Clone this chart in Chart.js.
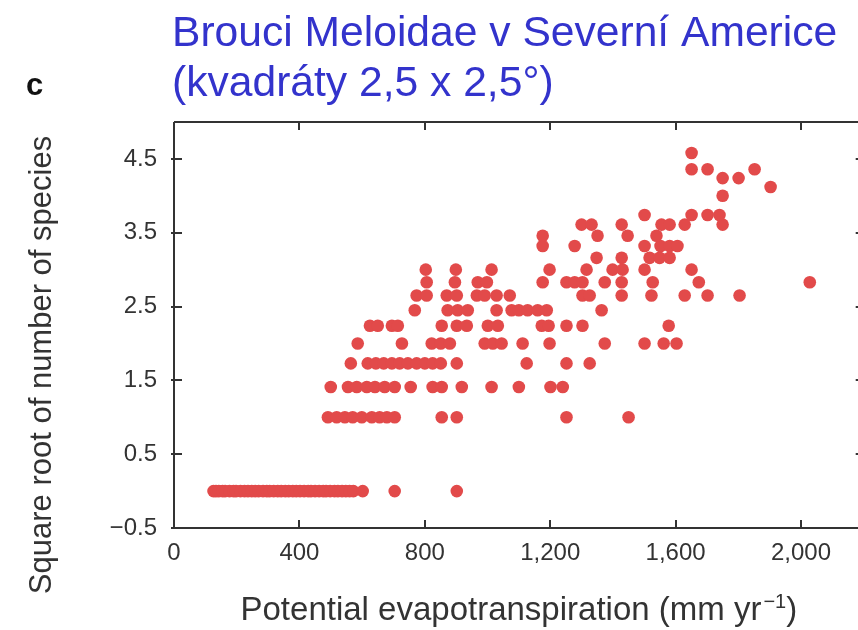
<!DOCTYPE html>
<html><head><meta charset="utf-8">
<script src="https://cdn.jsdelivr.net/npm/chart.js@4.4.1/dist/chart.umd.min.js"></script>
<style>
html,body{margin:0;padding:0;background:#fff;overflow:hidden;width:858px;height:630px}
#wrap{position:absolute;left:0;top:0;width:870px;height:630px}
</style>
</head><body><div id="wrap"><canvas id="c" width="870" height="630"></canvas></div>
<script>
// ---- text ----
const titleLines = ['Brouci Meloidae v Severní Americe', '(kvadráty 2,5 x 2,5°)'];
const panelLetter = 'c';
const yAxisTitle = 'Square root of number of species';
const xAxisTitleMain = 'Potential evapotranspiration (mm yr';
const xAxisTitleSup = '\u22121';
const xAxisTitleEnd = ')';

// ---- ticks ----
const xTickValues = [0, 400, 800, 1200, 1600, 2000];
const xTickLabels = ['0', '400', '800', '1,200', '1,600', '2,000'];
const yTickValues = [-0.5, 0.5, 1.5, 2.5, 3.5, 4.5];
const yTickLabels = ['\u22120.5', '0.5', '1.5', '2.5', '3.5', '4.5'];

// ---- data: square-root richness levels and PET values (mm/yr) at each level ----
const sqrtLevels = [0, 1, 1.41, 1.73, 2, 2.24, 2.45, 2.65, 2.83, 3, 3.16, 3.32, 3.46, 3.61, 3.74, 4, 4.12, 4.24, 4.36, 4.58];
const petLevel00 = [126, 134, 143, 155, 163, 177, 190, 198, 212, 225, 236, 248, 259, 270, 284, 296, 305, 318, 331, 342, 355, 366, 379, 390, 402, 415, 428, 437, 450, 463, 476, 485, 498, 512, 523, 536, 548, 560, 572, 602, 704, 902];
const petLevel01 = [491, 519, 545, 570, 599, 631, 656, 679, 704, 854, 902, 1252, 1450];
const petLevel02 = [500, 555, 583, 615, 641, 672, 704, 755, 825, 854, 918, 1013, 1100, 1201, 1240];
const petLevel03 = [564, 618, 644, 669, 695, 720, 746, 774, 800, 825, 851, 902, 1125, 1252, 1326];
const petLevel04 = [586, 727, 822, 851, 880, 991, 1017, 1045, 1112, 1198, 1374, 1501, 1562, 1603];
const petLevel05 = [625, 650, 695, 714, 854, 902, 934, 1001, 1033, 1173, 1195, 1252, 1303, 1578];
const petLevel06 = [768, 873, 905, 937, 1029, 1077, 1100, 1128, 1160, 1189, 1364];
const petLevel07 = [774, 806, 870, 902, 966, 991, 1029, 1071, 1303, 1326, 1428, 1523, 1629, 1702, 1804];
const petLevel08 = [806, 896, 969, 998, 1176, 1252, 1278, 1303, 1374, 1428, 1527, 1674, 2028];
const petLevel09 = [803, 899, 1013, 1198, 1316, 1399, 1431, 1501, 1651];
const petLevel10 = [1348, 1428, 1517, 1549, 1581];
const petLevel11 = [1176, 1278, 1501, 1552, 1581, 1606];
const petLevel12 = [1176, 1351, 1447, 1539];
const petLevel13 = [1300, 1332, 1428, 1555, 1581, 1629, 1750];
const petLevel14 = [1501, 1651, 1702, 1740];
const petLevel15 = [1750];
const petLevel16 = [1903];
const petLevel17 = [1750, 1801];
const petLevel18 = [1651, 1702, 1852];
const petLevel19 = [1651];
const petRows = [petLevel00, petLevel01, petLevel02, petLevel03, petLevel04, petLevel05, petLevel06, petLevel07, petLevel08, petLevel09,
  petLevel10, petLevel11, petLevel12, petLevel13, petLevel14, petLevel15, petLevel16, petLevel17, petLevel18, petLevel19];

const points = [];
petRows.forEach((row, i) => row.forEach(x => points.push({x: x, y: sqrtLevels[i]})));

const AX = '#333333';
const FONT = '"Liberation Sans", Arial, Helvetica, sans-serif';

const decor = {
  id: 'decor',
  beforeDatasetsDraw(chart) {
    const {ctx, chartArea: a, scales} = chart;
    ctx.save();
    ctx.strokeStyle = AX;
    ctx.lineWidth = 2;
    ctx.beginPath();
    ctx.moveTo(a.left, a.top); ctx.lineTo(a.right, a.top);
    ctx.moveTo(a.left, a.bottom); ctx.lineTo(a.right, a.bottom);
    ctx.moveTo(a.left, a.top); ctx.lineTo(a.left, a.bottom);
    ctx.moveTo(a.right, a.top); ctx.lineTo(a.right, a.bottom);
    xTickValues.forEach(v => {
      const px = Math.round(scales.x.getPixelForValue(v));
      ctx.moveTo(px, a.bottom); ctx.lineTo(px, a.bottom - 8);
      ctx.moveTo(px, a.top); ctx.lineTo(px, a.top + 8);
    });
    yTickValues.forEach(v => {
      const py = Math.round(scales.y.getPixelForValue(v));
      ctx.moveTo(a.left - 3, py); ctx.lineTo(a.left + 8, py);
      ctx.moveTo(a.right, py); ctx.lineTo(a.right - 8, py);
    });
    ctx.stroke();
    ctx.restore();
  },
  afterDraw(chart) {
    const {ctx, chartArea: a} = chart;
    ctx.save();
    // main title
    ctx.fillStyle = '#3333CC';
    ctx.font = '42.6px ' + FONT;
    ctx.textAlign = 'left';
    ctx.textBaseline = 'alphabetic';
    ctx.fillText(titleLines[0], 172, 46);
    ctx.fillText(titleLines[1], 172, 96);
    // panel letter
    ctx.fillStyle = '#111';
    ctx.font = 'bold 31px ' + FONT;
    ctx.fillText(panelLetter, 26, 95);
    // y title
    ctx.fillStyle = AX;
    ctx.font = '31px ' + FONT;
    ctx.save();
    ctx.translate(42, 365);
    ctx.rotate(-Math.PI / 2);
    ctx.textAlign = 'center';
    ctx.textBaseline = 'middle';
    ctx.fillText(yAxisTitle, 0, 0);
    ctx.restore();
    // x title with superscript
    ctx.font = '33px ' + FONT;
    const w1 = ctx.measureText(xAxisTitleMain).width;
    ctx.font = '20px ' + FONT;
    const w2 = ctx.measureText(xAxisTitleSup).width;
    ctx.font = '33px ' + FONT;
    const w3 = ctx.measureText(xAxisTitleEnd).width;
    const cx = (a.left + a.right) / 2;
    let x0 = cx - (w1 + w2 + 2 + w3) / 2;
    const base = 620;
    ctx.textAlign = 'left';
    ctx.fillText(xAxisTitleMain, x0, base);
    ctx.font = '20px ' + FONT;
    ctx.fillText(xAxisTitleSup, x0 + w1 + 2, base - 12);
    ctx.font = '33px ' + FONT;
    ctx.fillText(xAxisTitleEnd, x0 + w1 + 2 + w2, base);
    ctx.restore();
  }
};

new Chart(document.getElementById('c'), {
  type: 'scatter',
  data: {
    datasets: [{
      data: points,
      backgroundColor: '#E24A4A',
      borderWidth: 0,
      pointRadius: 6.3,
      pointHoverRadius: 6.3
    }]
  },
  options: {
    responsive: false,
    animation: false,
    devicePixelRatio: 1,
    events: [],
    layout: {padding: {top: 122, right: 6, left: 0, bottom: 0}},
    plugins: {legend: {display: false}, tooltip: {enabled: false}, title: {display: false}},
    scales: {
      x: {
        type: 'linear', min: 0, max: 2200,
        afterBuildTicks: s => { s.ticks = xTickValues.map(v => ({value: v})); },
        afterFit: s => { s.height = 102; },
        grid: {display: false, drawTicks: false},
        border: {display: false},
        ticks: {
          autoSkip: false, maxRotation: 0, padding: 11, color: AX,
          font: {family: FONT, size: 24},
          callback: (v, i) => xTickLabels[i]
        }
      },
      y: {
        type: 'linear', min: -0.5, max: 5.0,
        afterBuildTicks: s => { s.ticks = yTickValues.map(v => ({value: v})); },
        afterFit: s => { s.width = 174; },
        grid: {display: false, drawTicks: false},
        border: {display: false},
        ticks: {
          autoSkip: false, padding: 17, color: AX,
          font: {family: FONT, size: 24},
          callback: (v, i) => yTickLabels[i]
        }
      }
    }
  },
  plugins: [decor]
});
</script>
</body></html>
